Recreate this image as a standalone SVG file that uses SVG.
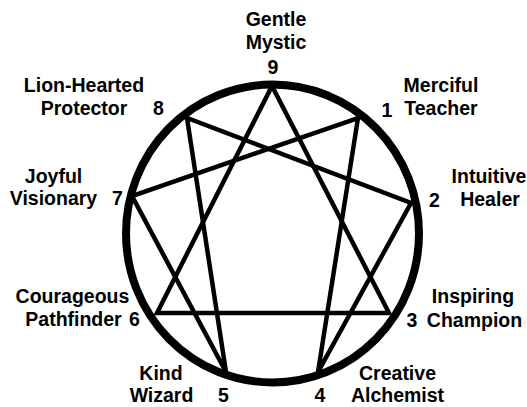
<svg xmlns="http://www.w3.org/2000/svg" width="527" height="407" viewBox="0 0 527 407">
<style>
text{font-family:"Liberation Sans",Arial,sans-serif;font-weight:bold;font-size:19.5px;fill:#000;text-anchor:middle}
.c{fill:none;stroke:#000;stroke-width:8}
.l{fill:none;stroke:#000;stroke-width:4.5;stroke-linejoin:miter}
</style>
<rect width="527" height="407" fill="#fff"/>
<ellipse class="c" cx="272.5" cy="233.5" rx="146.5" ry="149"/>
<g id="connectors">
<polygon class="l" points="272,86 389,313 157,313"/>
<polygon class="l" points="358,118 318,372 411,203 187,118 226,372 132,196"/>
</g>
<g id="node9"><text x="276" y="26">Gentle</text><text x="276" y="49">Mystic</text><text x="273" y="74">9</text></g>
<g id="node1"><text x="441" y="92">Merciful</text><text x="441" y="115">Teacher</text><text x="387" y="117">1</text></g>
<g id="node2"><text x="489" y="183">Intuitive</text><text x="490" y="206">Healer</text><text x="434.5" y="207">2</text></g>
<g id="node3"><text x="473" y="303">Inspiring</text><text x="474.5" y="327">Champion</text><text x="412" y="327">3</text></g>
<g id="node4"><text x="397.5" y="380">Creative</text><text x="397.5" y="402">Alchemist</text><text x="320" y="402">4</text></g>
<g id="node5"><text x="161" y="380">Kind</text><text x="161.5" y="402">Wizard</text><text x="223.5" y="402">5</text></g>
<g id="node6"><text x="72.5" y="303">Courageous</text><text x="73.5" y="326">Pathfinder</text><text x="134.5" y="326">6</text></g>
<g id="node7"><text x="53.5" y="183">Joyful</text><text x="53.5" y="205">Visionary</text><text x="117.5" y="205">7</text></g>
<g id="node8"><text x="84" y="92">Lion-Hearted</text><text x="84" y="115">Protector</text><text x="158.5" y="115">8</text></g>
</svg>
